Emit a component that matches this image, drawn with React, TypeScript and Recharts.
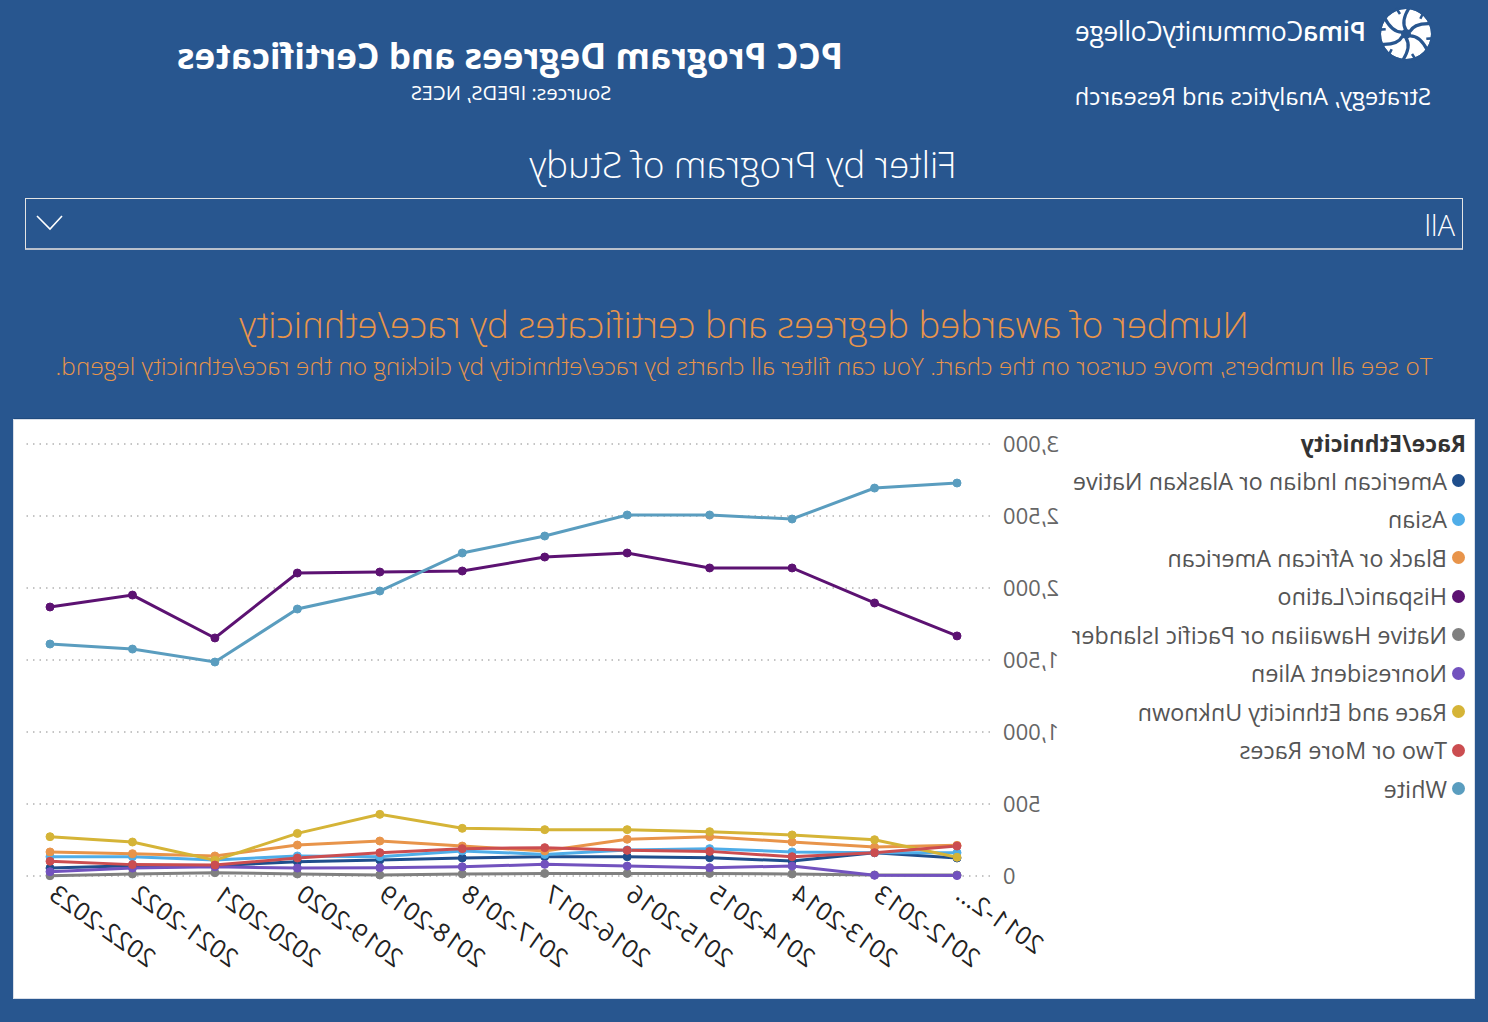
import React from 'react';
import { LineChart, Line, XAxis, YAxis, CartesianGrid } from 'recharts';

const years = ['2011-2012', '2012-2013', '2013-2014', '2014-2015', '2015-2016', '2016-2017', '2017-2018', '2018-2019', '2019-2020', '2020-2021', '2021-2022', '2022-2023'];
const yearLabels = ['2011-2...', '2012-2013', '2013-2014', '2014-2015', '2015-2016', '2016-2017', '2017-2018', '2018-2019', '2019-2020', '2020-2021', '2021-2022', '2022-2023'];
const yTicks = [0, 500, 1000, 1500, 2000, 2500, 3000];

const americanIndian = [125, 162, 104, 127, 134, 134, 125, 111, 99, 71, 71, 55];
const asian = [162, 162, 167, 190, 181, 150, 174, 134, 139, 111, 134, 134];
const black = [213, 201, 236, 273, 255, 174, 208, 243, 215, 139, 155, 167];
const hispanic = [1667, 1896, 2139, 2139, 2243, 2215, 2118, 2111, 2104, 1653, 1951, 1868];
const nativeHawaiian = [7, 7, 14, 18, 18, 18, 14, 7, 14, 23, 14, 2];
const nonresident = [3, 5, 69, 58, 69, 81, 64, 58, 55, 64, 55, 30];
const unknown = [130, 252, 285, 308, 322, 322, 331, 428, 296, 109, 236, 273];
const twoOrMore = [208, 162, 134, 171, 178, 197, 190, 162, 125, 76, 79, 102];
const white = [2729, 2694, 2479, 2507, 2507, 2361, 2243, 1979, 1854, 1486, 1576, 1611];

const series = [
  { key: 'ai', name: 'American Indian or Alaskan Native', color: '#1F4E8C', values: americanIndian },
  { key: 'as', name: 'Asian', color: '#4FADE8', values: asian },
  { key: 'bl', name: 'Black or African American', color: '#E8944A', values: black },
  { key: 'hi', name: 'Hispanic/Latino', color: '#5C1272', values: hispanic },
  { key: 'nh', name: 'Native Hawaiian or Pacific Islander', color: '#808080', values: nativeHawaiian },
  { key: 'nr', name: 'Nonresident Alien', color: '#7252BE', values: nonresident },
  { key: 'un', name: 'Race and Ethnicity Unknown', color: '#D5B437', values: unknown },
  { key: 'tw', name: 'Two or More Races', color: '#CB4D50', values: twoOrMore },
  { key: 'wh', name: 'White', color: '#5A9DBF', values: white },
];

const data = years.map((y, i) => {
  const row: Record<string, string | number> = { year: y };
  series.forEach(s => { row[s.key] = s.values[i]; });
  return row;
});

const BG = '#28568F';
const ORANGE = '#E8954A';
const FONT = '"Open Sans", Roboto, sans-serif';

function Logo() {
  const spokes = [0, 60, 120, 180, 240, 300];
  return (
    <svg width={54} height={54} viewBox="-27 -27 54 54" style={{ position: 'absolute', left: 55, top: 7 }}>
      <circle r={25} fill="#fff" />
      {spokes.map(a => (
        <g key={a} transform={`rotate(${a})`}>
          <path d="M0,-4 C4,-10 2,-18 -3,-26" stroke={BG} strokeWidth={3.2} fill="none" />
          <path d="M6,-20 L10,-26" stroke={BG} strokeWidth={2.5} fill="none" />
        </g>
      ))}
      <circle r={5} fill={BG} />
      <circle r={26} fill="none" stroke={BG} strokeWidth={2} />
    </svg>
  );
}

function XTick(props: any) {
  const { x, y, payload } = props;
  const idx = years.indexOf(payload.value);
  return (
    <text x={x} y={y} dx={-6} dy={13} transform={`rotate(-35, ${x}, ${y})`} textAnchor="end"
      fontSize={25} fill="#222" fontFamily={FONT}>
      {yearLabels[idx]}
    </text>
  );
}

export default function App() {
  return (
    <div style={{ position: 'absolute', left: 0, top: 0, width: 1488, height: 1022, background: BG, overflow: 'hidden', transform: 'scaleX(-1)', fontFamily: FONT, color: '#fff' }}>
      <Logo />
      <div style={{ position: 'absolute', left: 122, top: 14, fontSize: 26.4, lineHeight: '34px', letterSpacing: -0.3 }}>
        <span style={{ fontWeight: 600 }}>Pima</span>CommunityCollege
      </div>
      <div style={{ position: 'absolute', left: 57, top: 81, fontSize: 23.7, lineHeight: '30px' }}>Strategy, Analytics and Research</div>

      <div style={{ position: 'absolute', left: 478, top: 32, width: 1000, textAlign: 'center', fontSize: 35.2, fontWeight: 700, lineHeight: '46px' }}>
        PCC Program Degrees and Certificates
      </div>
      <div style={{ position: 'absolute', left: 777, top: 79, width: 400, textAlign: 'center', fontSize: 20.2, lineHeight: '26px' }}>
        Sources: IPEDS, NCES
      </div>

      <div style={{ position: 'absolute', left: 345, top: 140, width: 800, textAlign: 'center', fontSize: 36.8, fontWeight: 300, lineHeight: '48px' }}>
        Filter by Program of Study
      </div>
      <div style={{ position: 'absolute', left: 25, top: 198, width: 1436, height: 49, border: '1px solid #e4e4e4', borderBottom: '2px solid #b9c0cc' }}>
        <div style={{ position: 'absolute', left: 7, top: 8, fontSize: 29, lineHeight: '36px', fontWeight: 300 }}>All</div>
        <svg width={30} height={18} style={{ position: 'absolute', right: 8, top: 15 }}>
          <polyline points="2,2 14,15 27,2" fill="none" stroke="#fff" strokeWidth={1.6} />
        </svg>
      </div>

      <div style={{ position: 'absolute', left: 44, top: 300, width: 1400, textAlign: 'center', fontSize: 36.5, fontWeight: 300, lineHeight: '48px', color: ORANGE }}>
        Number of awarded degrees and certificates by race/ethnicity
      </div>
      <div style={{ position: 'absolute', left: 0, top: 350, width: 1488, textAlign: 'center', fontSize: 24.4, fontWeight: 300, lineHeight: '32px', color: ORANGE, whiteSpace: 'nowrap' }}>
        To see all numbers, move cursor on the chart. You can filter all charts by race/ethnicity by clicking on the race/ethnicity legend.
      </div>

      <div style={{ position: 'absolute', left: 14, top: 420, width: 1460, height: 578, background: '#fff', boxShadow: '0 -2px 0 #1f4a7e', outline: '1px solid #d8dee8' }}>
        <div style={{ position: 'absolute', left: 8, top: 9, fontSize: 22.9, fontWeight: 700, color: '#333', lineHeight: '30px' }}>Race/Ethnicity</div>
        {series.map((s, i) => (
          <div key={s.key} style={{ position: 'absolute', left: 9, top: 45 + i * 38.5, height: 31, display: 'flex', alignItems: 'center', fontSize: 23.4, color: '#555', whiteSpace: 'nowrap' }}>
            <span style={{ display: 'inline-block', width: 13, height: 13, borderRadius: 7, background: s.color, marginRight: 5 }} />
            {s.name}
          </div>
        ))}
        <LineChart width={1460} height={578} data={data} margin={{ top: 24, right: 8, bottom: 0, left: 410 }}>
          <CartesianGrid vertical={false} stroke="#8a8a8a" strokeDasharray="1.5 5" />
          <XAxis dataKey="year" axisLine={false} tickLine={false} height={122} interval={0}
            padding={{ left: 33, right: 28 }} tick={<XTick />} />
          <YAxis domain={[0, 3000]} ticks={yTicks} axisLine={false} tickLine={false} width={74} tickSize={0} tickMargin={13}
            tick={{ fontSize: 22, fill: '#666', fontFamily: FONT }}
            tickFormatter={(v: number) => v.toLocaleString('en-US')} />
          {series.map(s => (
            <Line key={s.key} dataKey={s.key} name={s.name} stroke={s.color} strokeWidth={3}
              dot={{ r: 4, fill: s.color, stroke: s.color, strokeWidth: 1 }} isAnimationActive={false} />
          ))}
        </LineChart>
      </div>
    </div>
  );
}
